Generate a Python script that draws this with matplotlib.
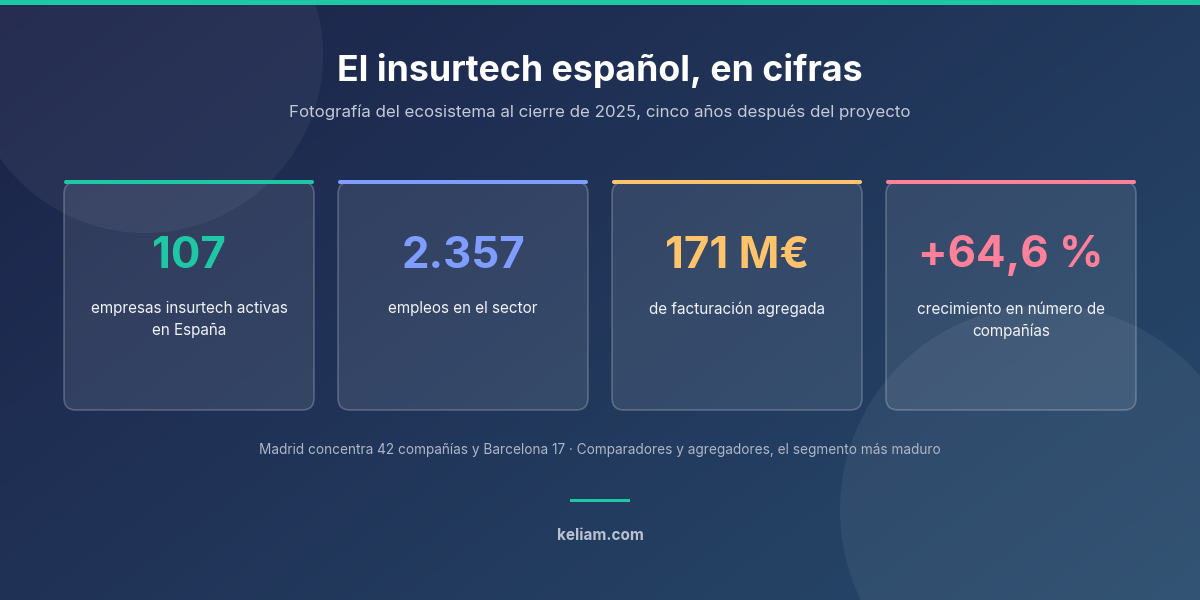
import matplotlib
matplotlib.use('Agg')
import matplotlib.pyplot as plt
from matplotlib.patches import FancyBboxPatch, Circle, Rectangle
import numpy as np

plt.rcParams['font.family'] = ['Inter', 'DejaVu Sans']

titulo = 'El insurtech español, en cifras'
subtitulo = 'Fotografía del ecosistema al cierre de 2025, cinco años después del proyecto'
cifras = ['107', '2.357', '171 M€', '+64,6 %']
etiquetas = ['empresas insurtech activas\nen España', 'empleos en el sector',
             'de facturación agregada', 'crecimiento en número de\ncompañías']
colores = ['#1fc8a5', '#7f9dff', '#ffc46b', '#ff8199']
nota = 'Madrid concentra 42 compañías y Barcelona 17 · Comparadores y agregadores, el segmento más maduro'
firma = 'keliam.com'

fig = plt.figure(figsize=(12, 6), dpi=100)
ax = fig.add_axes([0, 0, 1, 1])
ax.set_xlim(0, 1200)
ax.set_ylim(600, 0)
ax.axis('off')

# fondo degradado
yy, xx = np.mgrid[0:1:200j, 0:1:400j]
t = (xx * 0.6 + yy * 0.4)
c0 = np.array([0x1b, 0x22, 0x47]) / 255
c1 = np.array([0x27, 0x4a, 0x6c]) / 255
img = c0 + (c1 - c0) * t[..., None]
ax.imshow(img, extent=(0, 1200, 600, 0), aspect='auto', zorder=0)

ax.add_patch(Circle((145, 55), 178, color='white', alpha=0.05, lw=0, zorder=1))
ax.add_patch(Circle((1045, 510), 205, color='white', alpha=0.06, lw=0, zorder=1))
ax.add_patch(Rectangle((0, 0), 1200, 5, color='#1fc8a5', lw=0, zorder=5))

ax.text(600, 70, titulo, ha='center', va='center', fontsize=25.7, fontweight='bold', color='white', zorder=5)
ax.text(600, 112, subtitulo, ha='center', va='center', fontsize=12.2, color='#c3cad8', zorder=5)

for i, (cifra, etq, col) in enumerate(zip(cifras, etiquetas, colores)):
    x0 = 64 + i * 274
    ax.add_patch(FancyBboxPatch((x0, 182), 250, 228, boxstyle='round,pad=0,rounding_size=12',
                                facecolor=(1, 1, 1, 0.09), edgecolor=(1, 1, 1, 0.22), lw=1.2, zorder=2))
    ax.add_patch(FancyBboxPatch((x0, 180), 250, 4, boxstyle='round,pad=0,rounding_size=2',
                                facecolor=col, edgecolor='none', zorder=3))
    ax.text(x0 + 125, 256, cifra, ha='center', va='center', fontsize=31.5, fontweight='bold', color=col, zorder=5)
    for j, linea in enumerate(etq.split('\n')):
        ax.text(x0 + 125, 309 + j * 22, linea, ha='center', va='center', fontsize=11, color='#f0f3f8', zorder=5)

ax.text(600, 450, nota, ha='center', va='center', fontsize=9.8, color='#aeb7c8', zorder=5)
ax.add_patch(Rectangle((570, 499), 60, 3, color='#1fc8a5', lw=0, zorder=5))
ax.text(600, 536, firma, ha='center', va='center', fontsize=11, fontweight='bold', color='#b9c2d2', zorder=5)

plt.savefig('out.png', dpi=100)
plt.close()
